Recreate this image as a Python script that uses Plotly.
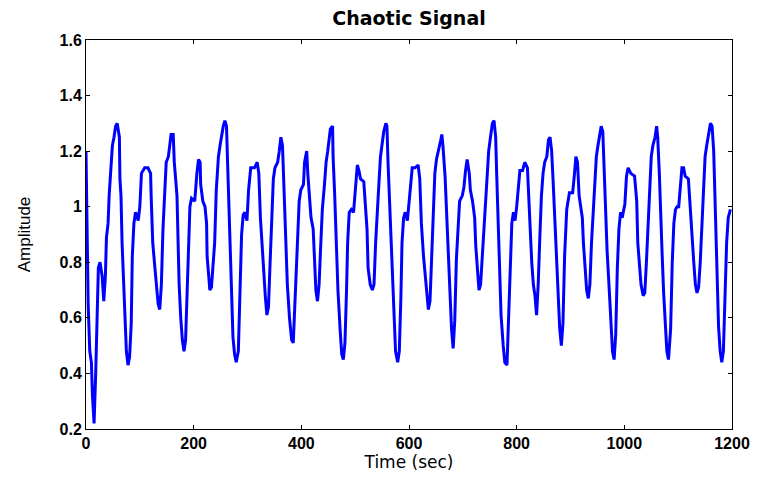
import plotly.graph_objects as go

# ---- data (time in sec, amplitude) ----
time_a = [0, 2.5, 4, 7, 10, 12, 15, 18, 20, 23, 26, 30, 33, 36, 38, 41, 43, 46, 49, 52,
          55, 58, 62, 63, 65, 67, 70, 72, 75, 78, 81, 84, 86, 89, 92, 97, 100, 103, 109, 115,
          120, 121, 124, 128, 131, 134, 137, 140, 143, 146, 149]
amp_a = [1.20, 0.89, 0.65, 0.48, 0.44, 0.32, 0.22, 0.40, 0.59, 0.78, 0.80, 0.75, 0.66, 0.75, 0.89, 0.94, 1.04, 1.14, 1.22, 1.25,
         1.29, 1.30, 1.25, 1.10, 1.04, 0.87, 0.72, 0.59, 0.48, 0.43, 0.46, 0.58, 0.82, 0.94, 0.98, 0.95, 1.00, 1.12, 1.14, 1.14,
         1.12, 1.04, 0.87, 0.78, 0.70, 0.65, 0.63, 0.72, 0.92, 1.06, 1.16]

time_b = [153, 155, 158, 162, 164, 169, 171, 173, 176, 179, 182, 185, 188, 191, 193, 196, 202, 206, 209, 212,
          213, 217, 221, 224, 225, 228, 230, 233, 236, 239, 242, 246, 249, 252, 255, 258, 261, 263, 265, 267,
          270, 273, 276, 279, 283, 286]
amp_b = [1.18, 1.22, 1.26, 1.26, 1.16, 1.04, 0.89, 0.72, 0.60, 0.52, 0.48, 0.52, 0.70, 0.89, 1.00, 1.03, 1.02, 1.12, 1.17, 1.16,
         1.08, 1.02, 1.00, 0.94, 0.82, 0.75, 0.70, 0.71, 0.80, 0.87, 1.06, 1.18, 1.22, 1.26, 1.29, 1.31, 1.29, 1.16, 1.02, 0.87,
         0.70, 0.53, 0.47, 0.44, 0.48, 0.70]

time_c = [289, 292, 295, 299, 302, 306, 313, 318, 321, 324, 327, 330, 333, 336, 339, 342, 345, 348, 351, 356,
          359, 362, 365, 368, 371, 374, 378, 382, 385, 387, 390, 393, 396, 399, 404, 406, 410, 412, 415, 418,
          422, 424, 427, 430, 433, 436, 439, 443, 446, 449, 452, 454, 458, 459, 462, 465, 468, 472, 475, 478,
          481, 484, 486, 489, 493, 497, 501, 504, 507, 510, 516, 519, 522, 524, 528, 532, 535, 538, 541, 544,
          547, 550, 553, 557, 559, 561, 564, 567, 570, 573, 575, 579, 582, 585, 587, 590, 593, 597]
amp_c = [0.90, 0.97, 0.98, 0.95, 1.06, 1.14, 1.14, 1.16, 1.12, 0.96, 0.86, 0.76, 0.68, 0.61, 0.64, 0.80, 0.94, 1.10, 1.14, 1.16,
         1.20, 1.25, 1.22, 1.04, 0.89, 0.72, 0.60, 0.52, 0.51, 0.60, 0.78, 0.93, 1.02, 1.06, 1.08, 1.16, 1.20, 1.12, 1.05, 0.96,
         0.92, 0.80, 0.70, 0.66, 0.72, 0.86, 0.99, 1.08, 1.16, 1.20, 1.25, 1.28, 1.29, 1.18, 1.04, 0.87, 0.70, 0.56, 0.47, 0.45,
         0.51, 0.70, 0.87, 0.98, 0.99, 0.98, 1.10, 1.15, 1.13, 1.10, 1.09, 1.02, 0.92, 0.78, 0.72, 0.70, 0.72, 0.87, 1.00, 1.08,
         1.18, 1.22, 1.27, 1.30, 1.29, 1.16, 1.02, 0.86, 0.70, 0.56, 0.48, 0.44, 0.48, 0.68, 0.87, 0.96, 0.98, 0.95]

time_d = [603, 606, 611, 617, 620, 623, 627, 630, 633, 636, 639, 642, 645, 648, 651, 655, 659, 661, 663, 667,
          670, 673, 676, 679, 682, 685, 688, 691, 694, 699, 702, 705, 708, 712, 714, 718, 722, 724, 727, 730,
          733, 736, 739, 742, 745, 748, 752, 755, 758, 761, 763, 766, 768, 771, 775, 778, 782, 785, 788, 791,
          794, 797, 800, 803, 806, 811, 815, 820, 822, 825, 828, 831, 834, 837, 840, 843, 846, 849, 852, 856,
          859, 862, 865, 868, 871, 874, 877, 880, 883, 886, 889, 893]
amp_d = [1.06, 1.14, 1.14, 1.15, 1.10, 0.94, 0.82, 0.75, 0.68, 0.63, 0.66, 0.82, 0.99, 1.12, 1.17, 1.20, 1.24, 1.26, 1.22, 1.11,
         0.96, 0.81, 0.65, 0.56, 0.49, 0.59, 0.81, 0.94, 1.02, 1.04, 1.07, 1.13, 1.17, 1.12, 1.06, 1.02, 0.96, 0.86, 0.78, 0.70,
         0.72, 0.81, 0.92, 1.02, 1.12, 1.20, 1.26, 1.30, 1.31, 1.25, 1.11, 0.93, 0.78, 0.61, 0.50, 0.44, 0.43, 0.58, 0.80, 0.94,
         0.98, 0.95, 1.00, 1.08, 1.13, 1.13, 1.16, 1.14, 1.05, 0.89, 0.80, 0.72, 0.68, 0.61, 0.72, 0.89, 1.04, 1.12, 1.16, 1.18,
         1.24, 1.25, 1.20, 1.08, 0.94, 0.78, 0.65, 0.56, 0.50, 0.58, 0.82, 0.99]

time_e = [898, 904, 907, 910, 913, 916, 919, 922, 924, 927, 930, 933, 936, 939, 942, 945, 948, 951, 954, 957,
          960, 962, 965, 968, 972, 975, 978, 981, 984, 987, 990, 993, 996, 1001, 1004, 1007, 1012, 1019, 1023, 1025,
          1028, 1031, 1035, 1038, 1041, 1044, 1047, 1050, 1053, 1057, 1060, 1062, 1065, 1067, 1070, 1073, 1076, 1079, 1082, 1086,
          1089, 1092, 1095, 1098, 1101, 1104, 1107, 1110, 1113, 1119, 1122, 1126, 1129, 1132, 1135, 1138, 1141, 1144, 1147, 1150,
          1153, 1156, 1160, 1163, 1166, 1168, 1170, 1172, 1175, 1178, 1181, 1184, 1187, 1190, 1193, 1197]
amp_e = [1.05, 1.05, 1.11, 1.18, 1.16, 1.04, 1.00, 0.96, 0.87, 0.80, 0.70, 0.67, 0.72, 0.87, 0.99, 1.11, 1.18, 1.22, 1.26, 1.29,
         1.27, 1.14, 0.99, 0.84, 0.70, 0.58, 0.48, 0.45, 0.54, 0.78, 0.92, 0.98, 0.96, 1.01, 1.11, 1.14, 1.12, 1.11, 1.02, 0.87,
         0.78, 0.72, 0.68, 0.69, 0.80, 0.94, 1.08, 1.18, 1.22, 1.25, 1.29, 1.25, 1.12, 0.99, 0.84, 0.69, 0.58, 0.48, 0.45, 0.56,
         0.80, 0.94, 0.99, 1.00, 1.00, 1.08, 1.14, 1.14, 1.11, 1.10, 0.99, 0.89, 0.80, 0.72, 0.69, 0.71, 0.80, 0.92, 1.06, 1.18,
         1.22, 1.26, 1.30, 1.29, 1.20, 1.06, 0.92, 0.70, 0.57, 0.48, 0.44, 0.48, 0.65, 0.87, 0.96, 0.99]

x_ticks = [0, 200, 400, 600, 800, 1000, 1200]
x_tick_labels = ["0", "200", "400", "600", "800", "1000", "1200"]
y_ticks = [0.2, 0.4, 0.6, 0.8, 1.0, 1.2, 1.4, 1.6]
y_tick_labels = ["0.2", "0.4", "0.6", "0.8", "1", "1.2", "1.4", "1.6"]

title_text = "Chaotic Signal"
x_title = "Time (sec)"
y_title = "Amplitude"

segments = [(time_a, amp_a), (time_b, amp_b), (time_c, amp_c), (time_d, amp_d), (time_e, amp_e)]
time = []
amp = []
for t, a in segments:
    assert len(t) == len(a), (len(t), len(a))
    time += t
    amp += a

TICK_FONT = "Liberation Sans, Arial, sans-serif"
BOLD_FONT = "DejaVu Sans, Liberation Sans, Arial, sans-serif"
TEXT_FONT = "Liberation Sans, Arial, sans-serif"

fig = go.Figure()
fig.add_trace(go.Scatter(x=time, y=amp, mode="lines",
                         line=dict(color="#0000FF", width=3), showlegend=False))

axis_common = dict(showline=True, linecolor="#000000", linewidth=1, mirror="ticks",
                   ticks="inside", ticklen=4, tickcolor="#000000", showgrid=False,
                   zeroline=False, ticklabeloverflow="allow",
                   tickfont=dict(family=TICK_FONT, size=16, color="#000000", weight="bold"))

fig.update_xaxes(range=[0, 1200], tickvals=x_ticks, ticktext=x_tick_labels,
                 title=dict(text=x_title, font=dict(family="DejaVu Sans, sans-serif", size=17, color="#000000"),
                            standoff=4),
                 **axis_common)
fig.update_yaxes(range=[0.2, 1.6], tickvals=y_ticks, ticktext=y_tick_labels,
                 title=dict(text=y_title, font=dict(family=TEXT_FONT, size=17, color="#000000"), standoff=24),
                 **axis_common)

# the page body has an 8px margin; keep the figure inside the window so nothing scrolls
fig.update_layout(
    width=750, height=465,
    margin=dict(l=78, r=26, t=32, b=44, autoexpand=False),
    paper_bgcolor="white", plot_bgcolor="white",
    title=dict(text=title_text, xref="paper", x=0.5, xanchor="center", y=1 - 10 / 465, yanchor="middle",
               font=dict(family=BOLD_FONT, size=19, color="#000000", weight="bold")),
)

fig.write_html("out.html")
